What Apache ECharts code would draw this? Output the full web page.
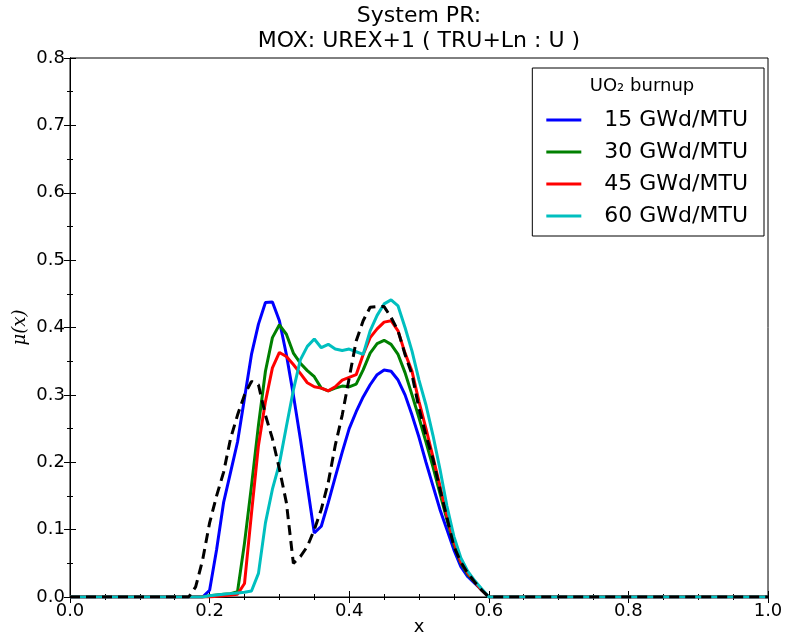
<!DOCTYPE html>
<html>
<head>
<meta charset="utf-8">
<script src="https://cdn.jsdelivr.net/npm/echarts@6/dist/echarts.min.js"></script>
<style>
  html, body { margin: 0; padding: 0; background: #fff; }
  #chart { width: 785px; height: 636px; }
</style>
</head>
<body>
<div id="chart"></div>
<script>
// x positions shared by all curves
const xs = [0, 0.17, 0.18, 0.19, 0.20, 0.21, 0.22, 0.23, 0.24, 0.25, 0.26, 0.27, 0.28, 0.29,
  0.30, 0.31, 0.32, 0.33, 0.34, 0.35, 0.36, 0.37, 0.38, 0.39, 0.40, 0.41, 0.42, 0.43, 0.44,
  0.45, 0.46, 0.47, 0.48, 0.49, 0.50, 0.51, 0.52, 0.53, 0.54, 0.55, 0.56, 0.57, 0.58, 0.59,
  0.60, 0.61, 1.0];

const names = ['15 GWd/MTU', '30 GWd/MTU', '45 GWd/MTU', '60 GWd/MTU'];

const y15 = [0, 0, 0, 0, 0.01, 0.07, 0.14, 0.185, 0.23, 0.295, 0.36, 0.405, 0.437, 0.438,
  0.41, 0.36, 0.30, 0.235, 0.165, 0.095, 0.105, 0.14, 0.178, 0.215, 0.25, 0.275, 0.297, 0.315, 0.33,
  0.337, 0.335, 0.322, 0.30, 0.27, 0.237, 0.20, 0.165, 0.13, 0.10, 0.07, 0.045, 0.03, 0.02, 0.01,
  0, 0, 0];
const y30 = [0, 0, 0, 0, 0.002, 0.003, 0.004, 0.005, 0.008, 0.08, 0.165, 0.255, 0.335, 0.385,
  0.404, 0.39, 0.362, 0.347, 0.336, 0.327, 0.31, 0.306, 0.31, 0.313, 0.312, 0.316, 0.337, 0.362, 0.376,
  0.381, 0.375, 0.36, 0.333, 0.30, 0.266, 0.23, 0.193, 0.154, 0.115, 0.078, 0.05, 0.033, 0.022, 0.01,
  0, 0, 0];
const y45 = [0, 0, 0, 0, 0, 0.001, 0.002, 0.003, 0.004, 0.02, 0.124, 0.225, 0.29, 0.34,
  0.363, 0.357, 0.345, 0.332, 0.318, 0.312, 0.31, 0.306, 0.312, 0.322, 0.326, 0.33, 0.36, 0.385, 0.398,
  0.408, 0.41, 0.395, 0.362, 0.335, 0.29, 0.25, 0.208, 0.165, 0.12, 0.082, 0.052, 0.035, 0.022, 0.01,
  0, 0, 0];
const y60 = [0, 0, 0, 0, 0.002, 0.003, 0.004, 0.005, 0.006, 0.007, 0.009, 0.035, 0.11, 0.16,
  0.198, 0.253, 0.307, 0.352, 0.372, 0.383, 0.37, 0.375, 0.368, 0.366, 0.368, 0.364, 0.36, 0.395, 0.418,
  0.435, 0.441, 0.432, 0.40, 0.365, 0.322, 0.285, 0.24, 0.19, 0.135, 0.09, 0.058, 0.038, 0.024, 0.012,
  0, 0, 0];
// dashed reference curve
const yRef = [0, 0, 0.015, 0.055, 0.11, 0.15, 0.185, 0.235, 0.27, 0.30, 0.32, 0.315, 0.27, 0.235,
  0.19, 0.14, 0.05, 0.06, 0.075, 0.10, 0.13, 0.17, 0.225, 0.27, 0.325, 0.38, 0.41, 0.43, 0.431,
  0.431, 0.415, 0.395, 0.36, 0.33, 0.28, 0.24, 0.205, 0.16, 0.118, 0.075, 0.052, 0.035, 0.022, 0.01,
  0, 0, 0];

const colors = ['#0000ff', '#008000', '#ff0000', '#00bfbf'];
const ySets = [y15, y30, y45, y60];

const font = 'DejaVu Sans';
const pts = ys => xs.map((x, i) => [x, ys[i]]);

let chart = echarts.init(document.getElementById('chart'));

const tickX = {
	min: 0, max: 1, interval: 0.2,
	splitLine: {show: false},
	axisLine: {show: true, lineStyle: {color: '#000', width: 1}},
	axisTick: {show: true, inside: true, length: 6, lineStyle: {color: '#000'}},
	minorTick: {show: true, splitNumber: 4, length: 3, lineStyle: {color: '#000'}},
};
const tickY = {
	min: 0, max: 0.8, interval: 0.1,
	splitLine: {show: false},
	axisLine: {show: true, lineStyle: {color: '#000', width: 1}},
	axisTick: {show: true, inside: true, length: 6, lineStyle: {color: '#000'}},
	minorTick: {show: true, splitNumber: 2, length: 3, lineStyle: {color: '#000'}},
};

let series = ySets.map((ys, i) => ({
	name: names[i],
	type: 'line',
	data: pts(ys),
	showSymbol: false,
	color: colors[i],
	lineStyle: {width: 3, color: colors[i]},
	animation: false
}));
series.push({
	name: 'ref',
	type: 'line',
	data: pts(yRef),
	showSymbol: false,
	color: '#000',
	lineStyle: {width: 3, color: '#000', type: [10, 6]},
	animation: false
});

const option = {
	animation: false,
	backgroundColor: '#fff',
	grid: {
		left: 70, right: 17, top: 58, bottom: 39,
		outerBoundsMode: 'none', containLabel: false,
		show: true, borderColor: '#000', borderWidth: 1
	},
	xAxis: [
		Object.assign({
			type: 'value', position: 'bottom',
			name: 'x', nameLocation: 'middle', nameGap: 21, nameMoveOverlap: false,
			nameTextStyle: {fontSize: 18, color: '#000', fontFamily: font},
			axisLabel: {fontSize: 18, color: '#000', fontFamily: font, margin: 5,
				formatter: v => v.toFixed(1)}
		}, tickX),
		Object.assign({type: 'value', position: 'top', axisLabel: {show: false}}, tickX)
	],
	yAxis: [
		Object.assign({
			type: 'value', position: 'left',
			name: 'μ(x)', nameLocation: 'middle', nameGap: 41, nameRotate: 90, nameMoveOverlap: false,
			nameTextStyle: {fontSize: 18, color: '#000', fontFamily: 'DejaVu Serif', fontStyle: 'italic'},
			axisLabel: {fontSize: 18, color: '#000', fontFamily: font, margin: 5,
				formatter: v => v.toFixed(1)}
		}, tickY),
		Object.assign({type: 'value', position: 'right', axisLabel: {show: false}}, tickY)
	],
	legend: {
		data: names,
		orient: 'vertical',
		right: 21, top: 68,
		backgroundColor: '#fff',
		borderColor: '#000', borderWidth: 1,
		padding: [41, 16, 9, 14],
		itemGap: 10,
		itemWidth: 35, itemHeight: 3,
		icon: 'rect',
		textStyle: {fontSize: 22, lineHeight: 22, color: '#000', fontFamily: font, padding: [0, 0, 0, 18]}
	},
	graphic: [
		{
			type: 'text', z: 100,
			style: {
				x: 419, y: 4,
				text: 'System PR:\nMOX: UREX+1 ( TRU+Ln : U )',
				fontSize: 22, fontFamily: font, lineHeight: 25,
				fill: '#000', align: 'center', verticalAlign: 'top'
			}
		},
		{
			type: 'text', z: 100,
			style: {
				x: 642, y: 86,
				text: 'UO₂ burnup',
				fontSize: 18, fontFamily: font,
				fill: '#000', align: 'center', verticalAlign: 'middle'
			}
		}
	],
	series: series
};
chart.setOption(option);
</script>
</body>
</html>
